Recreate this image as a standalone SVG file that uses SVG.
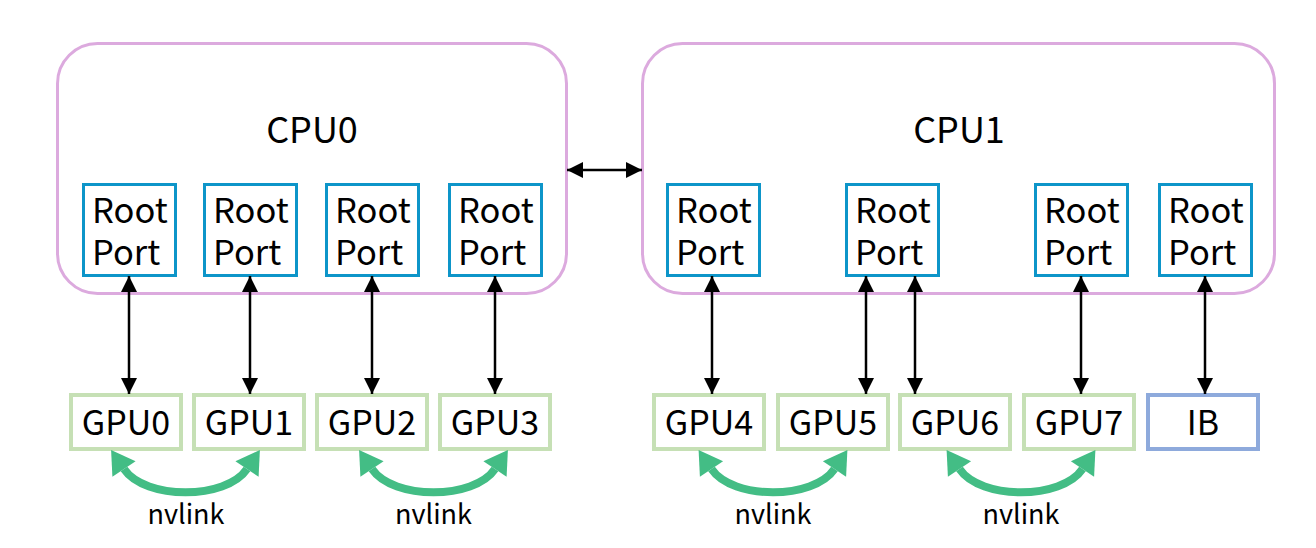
<svg xmlns="http://www.w3.org/2000/svg" width="1316" height="548" viewBox="0 0 1316 548">
<style>
text{font-family:"Noto Sans CJK SC","Noto Sans",sans-serif;fill:#000}
.cpu{fill:#fff;stroke:#dcaade;stroke-width:3}
.rp{fill:#fff;stroke:#0d95c9;stroke-width:3}
.gpu{fill:#fff;stroke:#c6e0b5;stroke-width:4}
.ib{fill:#fff;stroke:#8eaadc;stroke-width:4}
.big{font-size:36px;text-anchor:middle}
.rpt{font-size:34.5px}
.gt{font-size:34px;text-anchor:middle}
.nv{font-size:27px;text-anchor:middle}
.pc{stroke:#000;stroke-width:2.5;fill:none;marker-start:url(#ab);marker-end:url(#ab)}
.nvl{stroke:#43bd85;stroke-width:8;fill:none;marker-start:url(#ag);marker-end:url(#ag)}
</style>
<defs>
<marker id="ab" markerUnits="userSpaceOnUse" markerWidth="20" markerHeight="20" viewBox="0 -10 20 20" refX="16" refY="0" orient="auto-start-reverse" overflow="visible"><path d="M0,-8 L16,0 L0,8 Z" fill="#000"/></marker>
<marker id="ag" markerUnits="userSpaceOnUse" markerWidth="30" markerHeight="30" viewBox="0 -15 30 30" refX="0" refY="0" orient="auto-start-reverse" overflow="visible"><path d="M0,-14 L23,0 L0,14 Z" fill="#43bd85"/></marker>
</defs>
<g id="cpu0"><rect class="cpu" x="57.5" y="43.5" width="509" height="250" rx="40"/><text class="big" x="312" y="143">CPU0</text></g>
<g id="cpu1"><rect class="cpu" x="642.5" y="43.5" width="632" height="250" rx="40"/><text class="big" x="959" y="143">CPU1</text></g>
<g id="rp0"><rect class="rp" x="83.5" y="184.5" width="92" height="91"/><text class="rpt" x="92" y="223">Root</text><text class="rpt" x="92" y="265">Port</text></g>
<g id="rp1"><rect class="rp" x="204.5" y="184.5" width="92" height="91"/><text class="rpt" x="213" y="223">Root</text><text class="rpt" x="213" y="265">Port</text></g>
<g id="rp2"><rect class="rp" x="326.5" y="184.5" width="92" height="91"/><text class="rpt" x="335" y="223">Root</text><text class="rpt" x="335" y="265">Port</text></g>
<g id="rp3"><rect class="rp" x="449.5" y="184.5" width="92" height="91"/><text class="rpt" x="458" y="223">Root</text><text class="rpt" x="458" y="265">Port</text></g>
<g id="rp4"><rect class="rp" x="667.5" y="184.5" width="92" height="91"/><text class="rpt" x="676" y="223">Root</text><text class="rpt" x="676" y="265">Port</text></g>
<g id="rp5"><rect class="rp" x="846.5" y="184.5" width="92" height="91"/><text class="rpt" x="855" y="223">Root</text><text class="rpt" x="855" y="265">Port</text></g>
<g id="rp6"><rect class="rp" x="1035.5" y="184.5" width="92" height="91"/><text class="rpt" x="1044" y="223">Root</text><text class="rpt" x="1044" y="265">Port</text></g>
<g id="rp7"><rect class="rp" x="1159.5" y="184.5" width="92" height="91"/><text class="rpt" x="1168" y="223">Root</text><text class="rpt" x="1168" y="265">Port</text></g>
<g id="gpu0"><rect class="gpu" x="71" y="395" width="110" height="54"/><text class="gt" x="126" y="435">GPU0</text></g>
<g id="gpu1"><rect class="gpu" x="194" y="395" width="110" height="54"/><text class="gt" x="249" y="435">GPU1</text></g>
<g id="gpu2"><rect class="gpu" x="317" y="395" width="110" height="54"/><text class="gt" x="372" y="435">GPU2</text></g>
<g id="gpu3"><rect class="gpu" x="440" y="395" width="110" height="54"/><text class="gt" x="495" y="435">GPU3</text></g>
<g id="gpu4"><rect class="gpu" x="654" y="395" width="110" height="54"/><text class="gt" x="709" y="435">GPU4</text></g>
<g id="gpu5"><rect class="gpu" x="778" y="395" width="110" height="54"/><text class="gt" x="833" y="435">GPU5</text></g>
<g id="gpu6"><rect class="gpu" x="900" y="395" width="110" height="54"/><text class="gt" x="955" y="435">GPU6</text></g>
<g id="gpu7"><rect class="gpu" x="1024" y="395" width="110" height="54"/><text class="gt" x="1079" y="435">GPU7</text></g>
<g id="ib"><rect class="ib" x="1148" y="395" width="110" height="54"/><text class="gt" x="1203" y="435">IB</text></g>
<g id="connectors">
<path class="pc" d="M567,170 H642"/>
<path class="pc" d="M129,276 V394"/>
<path class="pc" d="M250,276 V394"/>
<path class="pc" d="M372,276 V394"/>
<path class="pc" d="M495,276 V394"/>
<path class="pc" d="M712,276 V394"/>
<path class="pc" d="M866,276 V394"/>
<path class="pc" d="M915,276 V394"/>
<path class="pc" d="M1081,276 V394"/>
<path class="pc" d="M1205,276 V394"/>
<path class="nvl" d="M124,469 C145,500 226,500 247,469"/>
<path class="nvl" d="M372,469 C393,500 474,500 495,469"/>
<path class="nvl" d="M711.5,469 C732.5,500 813.5,500 834.5,469"/>
<path class="nvl" d="M959.5,469 C980.5,500 1061.5,500 1082.5,469"/>
<text class="nv" x="186" y="524">nvlink</text>
<text class="nv" x="433.5" y="524">nvlink</text>
<text class="nv" x="773" y="524">nvlink</text>
<text class="nv" x="1021" y="524">nvlink</text>
</g>
</svg>
